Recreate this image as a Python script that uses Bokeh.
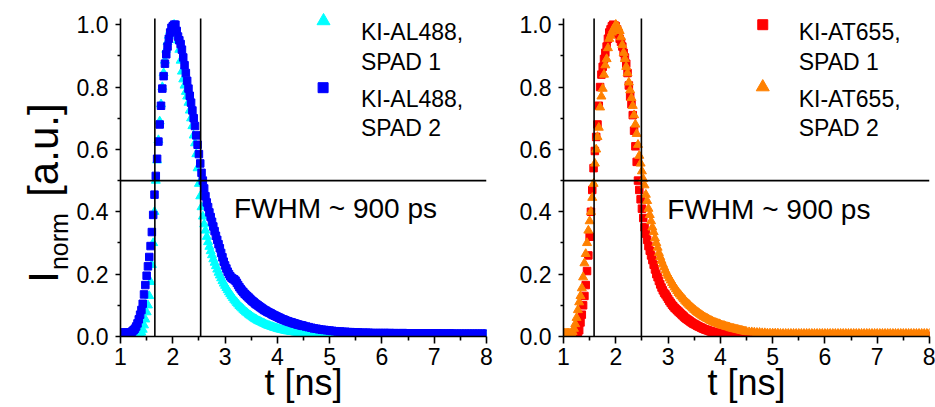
import numpy as np
from bokeh.plotting import figure
from bokeh.layouts import row
from bokeh.models import FixedTicker, PrintfTickFormatter, Span
from bokeh.core.properties import value
from bokeh.embed import file_html
from bokeh.resources import INLINE

# ---------------- data ----------------
# time bins [ns]: 25 ps bins from 1.0 to 4.5 ns, 50 ps bins from 4.55 to 8.0 ns
t_fine = [round(1.0 + 0.025 * i, 3) for i in range(141)]
t_tail = [round(4.55 + 0.05 * i, 3) for i in range(70)]
t_all = t_fine + t_tail

al488_spad1 = [  # cyan triangles
    0.006, 0.006, 0.006, 0.006, 0.006, 0.006, 0.006, 0.006,
    0.006, 0.006, 0.006, 0.006, 0.006, 0.006, 0.007, 0.009,
    0.013, 0.022, 0.036, 0.055, 0.078, 0.10, 0.13, 0.175,
    0.23, 0.30, 0.40, 0.50, 0.565, 0.63, 0.69, 0.745,
    0.80, 0.845, 0.885, 0.92, 0.945, 0.965, 0.98, 0.99,
    0.997, 1.0, 0.99, 0.975, 0.95, 0.92, 0.885, 0.85,
    0.825, 0.805, 0.785, 0.77, 0.75, 0.725, 0.70, 0.675,
    0.645, 0.62, 0.585, 0.54, 0.49, 0.45, 0.415, 0.385,
    0.36, 0.34, 0.32, 0.303, 0.288, 0.274, 0.261, 0.248,
    0.237, 0.226, 0.215, 0.205, 0.196, 0.187, 0.178, 0.17,
    0.163, 0.156, 0.149, 0.142, 0.136, 0.13, 0.124, 0.118,
    0.113, 0.108, 0.103, 0.098, 0.094, 0.09, 0.086, 0.082,
    0.078, 0.075, 0.071, 0.068, 0.065, 0.062, 0.059, 0.056,
    0.054, 0.051, 0.049, 0.047, 0.045, 0.043, 0.041, 0.039,
    0.037, 0.035, 0.034, 0.032, 0.031, 0.029, 0.028, 0.027,
    0.025, 0.024, 0.023, 0.022, 0.021, 0.02, 0.019, 0.018,
    0.017, 0.017, 0.016, 0.015, 0.015, 0.014, 0.013, 0.013,
    0.012, 0.012, 0.011, 0.011, 0.01,
    0.01, 0.009, 0.009, 0.008, 0.008, 0.008, 0.007, 0.007, 0.007, 0.007,
    0.007, 0.006, 0.007, 0.006, 0.006, 0.006, 0.006, 0.006, 0.006, 0.006,
    0.006, 0.006, 0.006, 0.006, 0.006, 0.006, 0.006, 0.006, 0.006, 0.006,
    0.006, 0.005, 0.006, 0.005, 0.006, 0.005, 0.005, 0.005, 0.005, 0.005,
    0.005, 0.005, 0.005, 0.005, 0.005, 0.005, 0.005, 0.005, 0.005, 0.005,
    0.005, 0.005, 0.005, 0.005, 0.005, 0.005, 0.005, 0.005, 0.005, 0.005,
    0.005, 0.005, 0.005, 0.005, 0.005, 0.005, 0.005, 0.005, 0.005, 0.005,
]

al488_spad2 = [  # blue squares
    0.012, 0.012, 0.012, 0.012, 0.012, 0.012, 0.012, 0.012,
    0.013, 0.016, 0.02, 0.025, 0.032, 0.042, 0.055, 0.07,
    0.085, 0.105, 0.135, 0.165, 0.195, 0.225, 0.255, 0.29,
    0.335, 0.39, 0.455, 0.515, 0.57, 0.625, 0.68, 0.74,
    0.795, 0.835, 0.875, 0.905, 0.93, 0.955, 0.975, 0.99,
    0.995, 1.0, 1.0, 0.98, 0.962, 0.95, 0.938, 0.92,
    0.895, 0.87, 0.845, 0.82, 0.795, 0.772, 0.75, 0.725,
    0.70, 0.675, 0.645, 0.615, 0.585, 0.555, 0.525, 0.50,
    0.475, 0.45, 0.43, 0.415, 0.398, 0.383, 0.368, 0.353,
    0.338, 0.323, 0.31, 0.296, 0.283, 0.268, 0.254, 0.24,
    0.228, 0.218, 0.208, 0.2, 0.193, 0.188, 0.185, 0.183,
    0.179, 0.172, 0.165, 0.158, 0.152, 0.147, 0.142, 0.137,
    0.133, 0.129, 0.125, 0.121, 0.117, 0.113, 0.11, 0.106,
    0.103, 0.1, 0.097, 0.094, 0.091, 0.088, 0.085, 0.083,
    0.08, 0.078, 0.076, 0.074, 0.071, 0.069, 0.067, 0.065,
    0.063, 0.061, 0.059, 0.057, 0.055, 0.054, 0.052, 0.05,
    0.049, 0.047, 0.046, 0.045, 0.043, 0.042, 0.041, 0.039,
    0.038, 0.037, 0.036, 0.035, 0.034,
    0.032, 0.03, 0.028, 0.026, 0.025, 0.023, 0.022, 0.021, 0.02, 0.019,
    0.018, 0.017, 0.016, 0.016, 0.015, 0.015, 0.014, 0.014, 0.013, 0.013,
    0.013, 0.012, 0.012, 0.012, 0.012, 0.011, 0.011, 0.011, 0.011, 0.011,
    0.011, 0.011, 0.011, 0.01, 0.011, 0.01, 0.01, 0.011, 0.01, 0.01,
    0.01, 0.01, 0.01, 0.01, 0.01, 0.01, 0.01, 0.009, 0.01, 0.01,
    0.01, 0.009, 0.01, 0.009, 0.009, 0.01, 0.009, 0.009, 0.009, 0.009,
    0.009, 0.009, 0.009, 0.009, 0.009, 0.009, 0.009, 0.009, 0.009, 0.009,
]

at655_spad1 = [  # red squares
    0.002, 0.002, 0.002, 0.002, 0.002, 0.002, 0.002, 0.002,
    0.002, 0.002, 0.002, 0.005, 0.02, 0.045, 0.07, 0.10,
    0.13, 0.165, 0.21, 0.26, 0.32, 0.40, 0.47, 0.54,
    0.595, 0.64, 0.68, 0.74, 0.80, 0.84, 0.865, 0.89,
    0.91, 0.93, 0.955, 0.975, 0.985, 0.995, 1.0, 0.998,
    0.995, 0.985, 0.97, 0.955, 0.945, 0.93, 0.91, 0.895,
    0.875, 0.845, 0.805, 0.77, 0.745, 0.71, 0.66, 0.61,
    0.56, 0.50, 0.47, 0.44, 0.41, 0.38, 0.35, 0.33,
    0.31, 0.29, 0.275, 0.26, 0.245, 0.23, 0.215, 0.2,
    0.19, 0.178, 0.167, 0.157, 0.148, 0.14, 0.135, 0.128,
    0.121, 0.114, 0.108, 0.102, 0.097, 0.092, 0.088, 0.084,
    0.08, 0.076, 0.072, 0.068, 0.064, 0.06, 0.057, 0.054,
    0.051, 0.048, 0.045, 0.042, 0.04, 0.038, 0.035, 0.033,
    0.031, 0.029, 0.027, 0.025, 0.023, 0.022, 0.02, 0.019,
    0.017, 0.016, 0.015, 0.014, 0.013, 0.012, 0.011, 0.01,
    0.009, 0.009, 0.008, 0.008, 0.007, 0.007, 0.006, 0.006,
    0.006, 0.005, 0.005, 0.005, 0.005, 0.004, 0.004, 0.004,
    0.004, 0.004, 0.003, 0.003, 0.003,
    0.003, 0.003, 0.003, 0.003, 0.003, 0.003, 0.003, 0.003, 0.003, 0.003,
    0.002, 0.002, 0.002, 0.002, 0.002, 0.002, 0.002, 0.002, 0.002, 0.002,
    0.002, 0.002, 0.002, 0.002, 0.002, 0.002, 0.002, 0.002, 0.002, 0.002,
    0.002, 0.002, 0.002, 0.002, 0.002, 0.002, 0.002, 0.002, 0.002, 0.002,
    0.002, 0.002, 0.002, 0.002, 0.002, 0.002, 0.002, 0.002, 0.002, 0.002,
    0.002, 0.002, 0.002, 0.002, 0.002, 0.002, 0.002, 0.002, 0.002, 0.002,
    0.002, 0.002, 0.002, 0.002, 0.002, 0.002, 0.002, 0.002, 0.002, 0.002,
]

at655_spad2 = [  # orange triangles
    0.01, 0.01, 0.01, 0.01, 0.01, 0.01, 0.01, 0.015,
    0.025, 0.04, 0.06, 0.085, 0.11, 0.13, 0.155, 0.19,
    0.235, 0.265, 0.30, 0.34, 0.37, 0.40, 0.445, 0.49,
    0.555, 0.60, 0.64, 0.67, 0.735, 0.77, 0.795, 0.84,
    0.87, 0.89, 0.925, 0.955, 0.965, 0.975, 0.985, 0.99,
    1.0, 0.995, 0.99, 0.98, 0.96, 0.935, 0.91, 0.89,
    0.865, 0.845, 0.815, 0.79, 0.765, 0.74, 0.71, 0.68,
    0.65, 0.615, 0.58, 0.555, 0.53, 0.505, 0.485, 0.455,
    0.435, 0.41, 0.39, 0.37, 0.35, 0.335, 0.315, 0.30,
    0.285, 0.268, 0.255, 0.243, 0.232, 0.222, 0.212, 0.202,
    0.195, 0.187, 0.18, 0.172, 0.165, 0.158, 0.152, 0.146,
    0.14, 0.135, 0.13, 0.125, 0.12, 0.115, 0.11, 0.106,
    0.102, 0.098, 0.094, 0.09, 0.086, 0.083, 0.079, 0.076,
    0.073, 0.07, 0.067, 0.064, 0.062, 0.059, 0.057, 0.055,
    0.052, 0.05, 0.048, 0.046, 0.044, 0.043, 0.041, 0.04,
    0.038, 0.036, 0.035, 0.034, 0.032, 0.031, 0.03, 0.029,
    0.027, 0.026, 0.025, 0.024, 0.023, 0.022, 0.021, 0.02,
    0.019, 0.018, 0.017, 0.016, 0.015,
    0.014, 0.014, 0.013, 0.012, 0.012, 0.011, 0.011, 0.01, 0.01, 0.01,
    0.01, 0.01, 0.009, 0.009, 0.009, 0.009, 0.009, 0.009, 0.009, 0.009,
    0.009, 0.009, 0.009, 0.009, 0.009, 0.009, 0.009, 0.009, 0.009, 0.009,
    0.009, 0.009, 0.009, 0.009, 0.009, 0.009, 0.009, 0.009, 0.009, 0.009,
    0.009, 0.009, 0.009, 0.009, 0.009, 0.009, 0.009, 0.009, 0.009, 0.009,
    0.009, 0.009, 0.009, 0.009, 0.009, 0.009, 0.009, 0.009, 0.009, 0.009,
    0.009, 0.009, 0.009, 0.009, 0.009, 0.009, 0.009, 0.009, 0.009, 0.009,
]

fwhm_left = [1.657, 2.533]     # half-maximum crossings, left panel [ns]
fwhm_right = [1.585, 2.49]     # half-maximum crossings, right panel [ns]
half_max = 0.5
fwhm_text = "FWHM ~ 900 ps"

x_ticks = [1, 2, 3, 4, 5, 6, 7, 8]
x_minor = [1.5, 2.5, 3.5, 4.5, 5.5, 6.5, 7.5]
y_ticks = [0.0, 0.2, 0.4, 0.6, 0.8, 1.0]
y_minor = [0.1, 0.3, 0.5, 0.7, 0.9]

legend_left = ["KI-AL488,", "SPAD 1", "KI-AL488,", "SPAD 2"]
legend_right = ["KI-AT655,", "SPAD 1", "KI-AT655,", "SPAD 2"]
x_label = "t [ns]"
y_label_parts = ["I", "norm", "[a.u.]"]

CYAN, BLUE, RED, ORANGE = "#00FFFF", "#0000FF", "#FF0000", "#FF8000"
FONT = "Liberation Sans"
Y_TOP = 1.0776


def make_fig(width, left, right):
    p = figure(width=width, height=407, x_range=(1, 8), y_range=(0, Y_TOP),
               output_backend="svg", toolbar_location=None,
               min_border_left=left, min_border_right=right,
               min_border_top=0, min_border_bottom=71)
    p.grid.visible = False
    p.outline_line_color = None
    p.background_fill_color = "white"
    p.border_fill_color = "white"
    for ax in (p.xaxis[0], p.yaxis[0]):
        ax.axis_line_width = 1.6
        ax.axis_line_color = "black"
        ax.major_tick_line_width = 1.6
        ax.minor_tick_line_width = 1.6
        ax.major_tick_in = 0
        ax.minor_tick_in = 0
        ax.major_label_text_font = FONT
        ax.major_label_text_font_size = "23px"
        ax.major_label_text_color = "black"
    p.xaxis.ticker = FixedTicker(ticks=x_ticks, minor_ticks=x_minor)
    p.xaxis.formatter = PrintfTickFormatter(format="%d")
    p.xaxis.major_tick_out = 7
    p.xaxis.minor_tick_out = 4
    p.xaxis.major_label_standoff = 4
    p.xaxis.axis_label = x_label
    p.xaxis.axis_label_text_font = FONT
    p.xaxis.axis_label_text_font_style = "normal"
    p.xaxis.axis_label_text_font_size = "36px"
    p.xaxis.axis_label_text_color = "black"
    p.xaxis.axis_label_standoff = -6
    p.yaxis.ticker = FixedTicker(ticks=y_ticks, minor_ticks=y_minor)
    p.yaxis.formatter = PrintfTickFormatter(format="%.1f")
    p.yaxis.major_tick_out = 5
    p.yaxis.minor_tick_out = 3
    p.yaxis.major_label_standoff = 7
    p.yaxis.bounds = (0, 1.02)
    return p


def decorate(p, fwhm, fwhm_pos):
    p.add_layout(Span(location=half_max, dimension="width", line_color="black", line_width=1.6))
    p.segment(x0=fwhm, y0=[0, 0], x1=fwhm, y1=[1.02, 1.02], line_color="black", line_width=1.6)
    p.text(x=[fwhm_pos[0]], y=[fwhm_pos[1]], text=[fwhm_text], text_font=value(FONT),
           text_font_size="28px", text_baseline="alphabetic", text_align="left", text_color="black")


# ---------------- y-axis title strip (its frame is aligned with the panels) ----------------
LW = 73
pl = figure(width=LW, height=407, x_range=(0, LW), y_range=(0, Y_TOP),
            output_backend="svg", toolbar_location=None,
            min_border=0, min_border_left=0, min_border_right=0,
            min_border_top=0, min_border_bottom=71)
pl.axis.visible = False
pl.grid.visible = False
pl.outline_line_color = None
pl.text(x=[43.3, 43.3], y=[0.172, 0.448], text=[y_label_parts[0], y_label_parts[2]],
        angle=np.pi / 2, text_font=value(FONT), text_font_size="42px",
        text_align="left", text_baseline="alphabetic", text_color="black")
pl.text(x=[58.0], y=[0.213], text=[y_label_parts[1]], angle=np.pi / 2,
        text_font=value(FONT), text_font_size="25px",
        text_align="left", text_baseline="alphabetic", text_color="black")

# ---------------- left panel ----------------
p1 = make_fig(495 - LW, 120 - LW, 9)
p1.scatter(t_all, al488_spad1, marker="triangle", size=9, color=CYAN)
p1.scatter(t_all, al488_spad2, marker="square", size=7.5, color=BLUE)
decorate(p1, fwhm_left, (3.17, 0.409))
p1.scatter([4.883], [1.012], marker="triangle", size=13, color=CYAN)
p1.scatter([4.875], [0.798], marker="square", size=10, color=BLUE)
p1.text(x=[5.598] * 4, y=[0.975, 0.879, 0.761, 0.670], text=legend_left, text_font=value(FONT),
        text_font_size="23px", text_baseline="alphabetic", text_align="left", text_color="black")

# ---------------- right panel ----------------
p2 = make_fig(440, 68, 6)
p2.scatter(t_all, at655_spad1, marker="square", size=7.5, color=RED)
p2.scatter(t_all, at655_spad2, marker="triangle", size=9, color=ORANGE)
decorate(p2, fwhm_right, (2.986, 0.407))
p2.scatter([4.811], [1.0], marker="square", size=10, color=RED)
p2.scatter([4.811], [0.80], marker="triangle", size=13, color=ORANGE)
p2.text(x=[5.499] * 4, y=[0.975, 0.879, 0.761, 0.670], text=legend_right, text_font=value(FONT),
        text_font_size="23px", text_baseline="alphabetic", text_align="left", text_color="black")

layout = row(pl, p1, p2)
open("out.html", "w").write(file_html(layout, INLINE))
